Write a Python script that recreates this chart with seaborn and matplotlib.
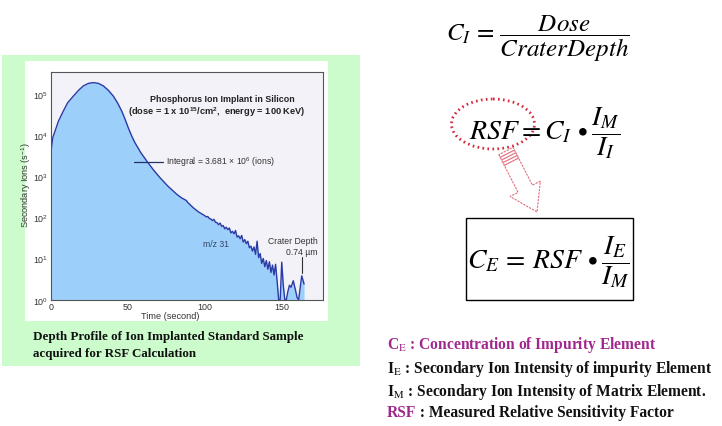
import numpy as np
import matplotlib
matplotlib.use("Agg")
import matplotlib.pyplot as plt
import seaborn as sns
from matplotlib import font_manager
from matplotlib.patches import Rectangle, Ellipse, Polygon
from matplotlib.lines import Line2D
from matplotlib.ticker import LogLocator, MultipleLocator, NullFormatter

# ---------------- data ----------------
time_s = [0, 0.2, 1.3, 2.8, 5, 8.2, 11, 14.7, 18, 21.2,
          24.5, 27.7, 31, 34.2, 37.5, 40.7, 43.5, 46.1, 48.3, 50.4,
          52.5, 54.7, 58.5, 62.3, 66.5, 71, 76, 81.8, 85, 87,
          88, 89, 92.6, 96, 100,
          101, 102, 103, 104, 105, 106, 107, 108, 109, 110,
          111, 112, 113, 114, 115, 116, 117, 118, 119, 120,
          121, 122, 123, 124, 125, 126, 127, 128, 129, 130,
          131, 132, 133, 134, 135, 136, 137, 138, 139, 140,
          141, 142, 143, 144, 145, 146, 147, 148, 149, 150,
          151, 152, 153, 154, 155, 156, 157.5, 159, 160, 161,
          162, 163, 164.5]
log10_ions = [0.0, 3.60, 3.93, 4.09, 4.33, 4.58, 4.78, 4.94, 5.08, 5.19,
              5.25, 5.27, 5.25, 5.19, 5.08, 4.94, 4.77, 4.58, 4.38, 4.17,
              3.98, 3.81, 3.57, 3.37, 3.16, 2.96, 2.76, 2.56, 2.47, 2.43,
              2.41, 2.36, 2.23, 2.13, 2.04,
              2.01, 2.02, 1.97, 1.96, 1.92, 1.95, 1.88, 1.87, 1.82, 1.86,
              1.78, 1.80, 1.72, 1.76, 1.70, 1.74, 1.62, 1.66, 1.60, 1.68,
              1.52, 1.55, 1.48, 1.56, 1.40, 1.46, 1.36, 1.42, 1.26, 1.30,
              1.18, 1.28, 1.10, 1.42, 1.02, 1.12, 0.88, 1.00, 0.80, 0.95,
              0.74, 0.92, 0.66, 0.84, 0.60, 0.86, 0.45, 0.0, 0.0, 0.91,
              0.35, 0.0, 0.0, 0.20, 0.35, 0.30, 0.46, 0.22, 0.05, 0.0,
              0.30, 0.58, 0.38]
x_ticks = [0, 50, 100, 150]

chart_title = "Phosphorus Ion Implant in Silicon"
chart_subtitle = r"(dose = 1 x $\mathbf{10^{15}}$/cm$\mathbf{^{2}}$,  energy = 100 KeV)"
integral_label = r"Integral = 3.681 $\times$ 10$^{6}$ (ions)"
x_label = "Time (second)"
y_label = r"Secondary Ions (s$^{-1}$)"
caption_lines = ["Depth Profile of Ion Implanted Standard Sample",
                 "acquired for RSF Calculation"]

# ---------------- style ----------------
sns.set_style("white")
names = {f.name for f in font_manager.fontManager.ttflist}
sans = "Liberation Sans Narrow" if "Liberation Sans Narrow" in names else "Liberation Sans"
narrow = sans.endswith("Narrow")
k = 1.0 if narrow else 0.84
plt.rcParams["font.family"] = [sans, "DejaVu Sans"]
plt.rcParams["mathtext.fontset"] = "custom"
plt.rcParams["mathtext.rm"] = sans
plt.rcParams["mathtext.it"] = sans + ":italic"
plt.rcParams["mathtext.bf"] = sans + ":bold"

W, H = 722, 427
fig = plt.figure(figsize=(W / 100, H / 100), dpi=100)

def pix_axes(zorder):
    a = fig.add_axes([0, 0, 1, 1], zorder=zorder)
    a.set_xlim(0, W)
    a.set_ylim(H, 0)
    a.axis("off")
    a.patch.set_alpha(0)
    return a

# background panels
bg = pix_axes(0)
bg.add_patch(Rectangle((2, 56), 358, 311, facecolor="#ccfccc", edgecolor="none"))
bg.add_patch(Rectangle((25, 62), 303, 260, facecolor="white", edgecolor="none"))

# ---------------- chart ----------------
L, R, T, B = 50.7, 322.7, 72.7, 300.7
ax = fig.add_axes([L / W, 1 - B / H, (R - L) / W, (B - T) / H], zorder=1)
ax.set_facecolor("#f2f2f8")
t = np.array(time_s)
ions = 10 ** np.array(log10_ions)
ax.fill_between(t, ions, 1, color="#9ccffa", lw=0)
sns.lineplot(x=t, y=ions, ax=ax, color="#2b3aa6", lw=1.0, sort=False,
             estimator=None)
ax.set_yscale("log")
ax.set_xlim(0, 176.6)
ax.set_ylim(1, 10 ** 5.534)
ax.set_xticks(x_ticks)
ax.xaxis.set_minor_locator(MultipleLocator(10))
ax.yaxis.set_major_locator(LogLocator(base=10, numticks=10))
ax.yaxis.set_minor_locator(LogLocator(base=10, subs=np.arange(2, 10), numticks=20))
ax.yaxis.set_minor_formatter(NullFormatter())
ax.tick_params(axis="both", which="major", direction="in", length=3.5,
               width=0.7, color="#444444", labelsize=7.6 * k, labelcolor="#333333", pad=1.5)
ax.tick_params(axis="both", which="minor", direction="in", length=2,
               width=0.5, color="#444444")
ax.tick_params(top=False, right=False, which="both")
for s in ax.spines.values():
    s.set_color("#555555")
    s.set_linewidth(0.8)
ax.set_xlabel("")
ax.set_ylabel("")

# ---------------- overlay texts ----------------
ov = pix_axes(2)
chart_c = "#333333"
ov.text(222.5, 99, chart_title, ha="center", va="center", fontsize=7.6 * k,
        fontweight="bold", color="#222222")
ov.text(216.7, 112, chart_subtitle, ha="center", va="center", fontsize=7.9 * k,
        fontweight="bold", color="#222222")
ov.add_line(Line2D([134, 163], [162.7, 162.7], color="#223366", lw=0.9))
ov.text(165.7, 162, integral_label, ha="left", va="center", fontsize=7.4 * k,
        color=chart_c)
ov.text(203, 245, "m/z 31", ha="left", va="center", fontsize=7.4 * k, color="#334466")
ov.text(318, 242, "Crater Depth", ha="right", va="center", fontsize=7.4 * k, color=chart_c)
ov.text(318, 252.5, "0.74 µm", ha="right", va="center", fontsize=7.4 * k, color=chart_c)
ov.add_line(Line2D([301.7, 301.7], [258, 274], color="#333333", lw=0.8))
ov.text(170, 317, x_label, ha="center", va="center", fontsize=7.8 * k, color=chart_c)
ov.text(26.5, 185, y_label, ha="center", va="center", rotation=90, fontsize=7.8 * k,
        color=chart_c)

serif = ["Liberation Serif", "DejaVu Serif"]
ov.text(33, 337, caption_lines[0], ha="left", va="center", fontsize=9.4,
        family=serif, fontweight="bold", color="#111111")
ov.text(33, 354, caption_lines[1], ha="left", va="center", fontsize=9.4,
        family=serif, fontweight="bold", color="#111111")

# ---------------- formulas ----------------
fkw = dict(ha="center", va="center", math_fontfamily="stix", color="black")
ov.text(538, 39, r"$C_I\, =\, \dfrac{Dose}{CraterDepth}$", fontsize=18, **fkw)
ov.text(544.5, 133.5, r"$RSF = C_I\, \bullet \dfrac{I_M}{I_I}$", fontsize=20, **fkw)
ov.text(548.5, 262, r"$C_E\, =\, RSF\, \bullet \dfrac{I_E}{I_M}$", fontsize=20, **fkw)
ov.add_patch(Rectangle((466, 219), 167, 82, facecolor="none", edgecolor="black", lw=1.0))
ov.add_patch(Ellipse((493, 125), 83, 50, facecolor="none", edgecolor="#d42a3c",
                     lw=2.0, ls=(0, (0.6, 1.2))))

# fat arrow
tail = np.array([506.0, 152.0])
tip = np.array([537.0, 213.0])
d = (tip - tail) / np.linalg.norm(tip - tail)
n = np.array([-d[1], d[0]])
ln = np.linalg.norm(tip - tail)
hw, HW, HL = 8.0, 17.0, 26.0
base = tail + d * (ln - HL)
pts = [tail + n * hw, base + n * hw, base + n * HW, tip, base - n * HW,
       base - n * hw, tail - n * hw]
ov.add_patch(Polygon(pts, closed=True, facecolor="white", edgecolor="#e06a7c",
                     lw=0.8, ls=(0, (2, 1))))
for s in [3, 6, 9, 12]:
    p = tail + d * s
    ov.add_line(Line2D([p[0] - n[0] * hw, p[0] + n[0] * hw],
                       [p[1] - n[1] * hw, p[1] + n[1] * hw], color="#e06a7c", lw=0.8))

# ---------------- legend of symbols ----------------
purple = "#a0288c"
lfs = 11.2
lkw = dict(ha="left", va="center", fontsize=lfs, family=serif, fontweight="bold",
           math_fontfamily="stix")
ov.text(387, 345, r"C$_{\mathrm{E}}$ : Concentration of Impurity Element", color=purple, **lkw)
ov.text(387, 369, r"I$_{\mathrm{E}}$ : Secondary Ion Intensity of impurity Element", color="#111111", **lkw)
ov.text(387, 392, r"I$_{\mathrm{M}}$ : Secondary Ion Intensity of Matrix Element.", color="#111111", **lkw)
t_rsf = ov.text(387, 413, "RSF", color=purple, **lkw)
ov.annotate(" : Measured Relative Sensitivity Factor", xy=(1, 0), xycoords=t_rsf,
            ha="left", va="bottom", fontsize=lfs, family=serif, fontweight="bold",
            color="#111111")

fig.savefig("out.png", dpi=100)
